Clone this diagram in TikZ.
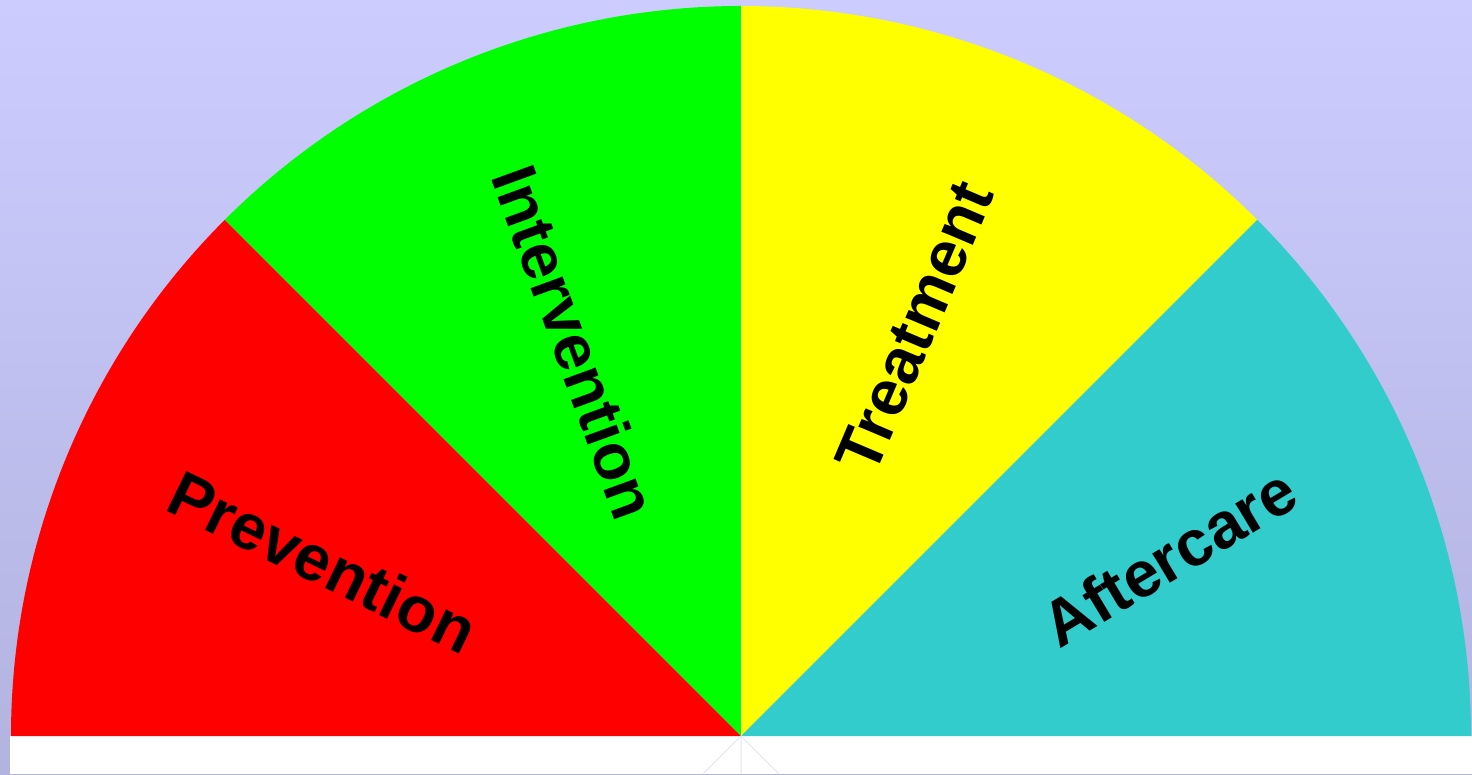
\documentclass[tikz,border=0pt]{standalone}
\usepackage{fontspec}
\setmainfont{Liberation Sans}
\definecolor{bgtop}{HTML}{CCCCFF}
\definecolor{bgbot}{HTML}{B3B3E0}
\definecolor{wred}{HTML}{FF0000}
\definecolor{wgreen}{HTML}{00FF00}
\definecolor{wyellow}{HTML}{FFFF00}
\definecolor{wteal}{HTML}{33CCCC}
\definecolor{faint}{HTML}{E4E4F6}
\tikzset{
  lbl/.style={font=\fontsize{64.5}{76}\selectfont\bfseries, text=black, inner sep=0pt, anchor=center},
}
\begin{document}
\begin{tikzpicture}[x=1pt,y=1pt]
\useasboundingbox (0,0) rectangle (1472,774);
\shade[top color=bgtop, bottom color=bgbot] (0,0) rectangle (1472,774);
\fill[white] (10,0) rectangle (1472,38);
\coordinate (c) at (741,38);
\fill[wred] (c) -- ++(180:730) arc (180:135:730) -- cycle;
\fill[wgreen] (c) -- ++(135:730) arc (135:90:730) -- cycle;
\fill[wyellow] (c) -- ++(90:730) arc (90:45:730) -- cycle;
\fill[wteal] (c) -- ++(45:730) arc (45:0:730) -- cycle;
\draw[white, opacity=0.5, line width=1pt] (c) -- ++(90:730);
\draw[faint, line width=1pt] (c) -- ++(270:38) (c) -- ++(225:53.7) (c) -- ++(315:53.7);
\node[lbl, rotate=-26] (prev) at (323,212) {Prevention};
\node[lbl, rotate=-70] (interv) at (575,432) {Intervention};
\node[lbl, rotate=67] (treat) at (915,447) {Treatment};
\node[lbl, rotate=31] (after) at (1169,217) {Aftercare};
\end{tikzpicture}
\end{document}
